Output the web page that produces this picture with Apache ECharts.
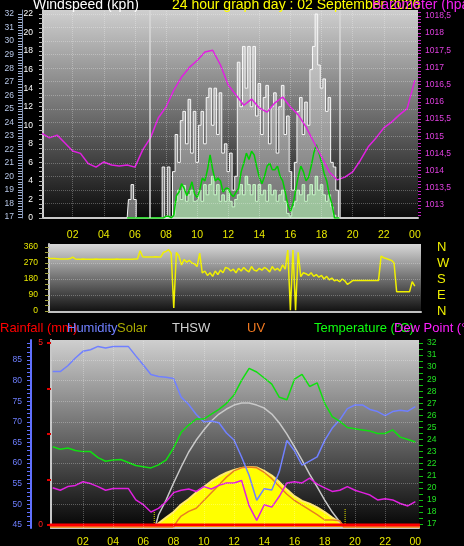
<!DOCTYPE html>
<html><head><meta charset="utf-8">
<script src="https://cdn.jsdelivr.net/npm/echarts@6/dist/echarts.min.js"></script>
<style>html,body{margin:0;padding:0;background:#000;}#c{width:464px;height:546px;}</style>
</head><body><div id="c"></div>
<script>
const FONT = '"Liberation Sans", Arial, sans-serif';

// ---------- tick labels ----------
const hourTicks = [2,4,6,8,10,12,14,16,18,20,22,24];
const windTickLabels = [0,2,4,6,8,10,12,14,16,18,20,22];
const outerTickLabels = [17,18,19,20,21,22,23,24,25,26,27,28,29,30,31,32];
const pressureTickLabels = [1013,1013.5,1014,1014.5,1015,1015.5,1016,1016.5,1017,1017.5,1018,1018.5];
const dirTickLabels = [0,90,180,270,360];
const dirCompass = {0:'N',90:'E',180:'S',270:'W',360:'N'};
const humTickLabels = [45,50,55,60,65,70,75,80,85];
const rainTickLabels = [0,5];
const rainTicks = [0,1.25,2.5,3.75,5];
const tempTickLabels = [17,18,19,20,21,22,23,24,25,26,27,28,29,30,31,32];

// ---------- panel 1 : wind (10-minute samples from 05:30) ----------
const windStart = 5.5;
const windGust = [
  0,2,3.6,
  2,0,0,0,0,0,
  0,0,0,0,0,5.5,
  0,5.5,0,5,9,6,
  10.5,11.5,8,12.8,7,11.5,
  6,10,11.5,8,13,14,
  10,14,9,13.5,7,8,
  5,7,3,4.5,16.8,12,
  18.5,14,18.5,12,18.5,11,
  14.5,9,13,14.3,8,12,
  13.5,7,12,14.3,9,11,
  5,3,6,11.5,13,9,
  12.5,10,16,18.5,22,16.5,
  14,15,11.5,13,6,5.5,
  3,0
];
const windAvg = [
  0,0,0,
  0,0,0,0,0,0,
  0,0,0,0,0,0,
  0.2,0.2,0,0.3,2.4,2.8,
  3.7,3.2,2.4,3.0,3.9,2.6,
  2.2,3.0,4.3,4.0,5.2,6.8,
  5.2,4.0,4.3,4.0,2.8,3.2,
  3.2,2.6,2.3,2.8,3.2,5.0,
  5.9,7.0,6.3,7.2,6.8,5.5,
  4.4,3.7,4.5,5.6,5.9,5.2,
  5.2,5.6,4.5,4.0,2.8,1.4,
  0.7,1.5,3.0,4.5,5.6,5.0,
  4.0,4.4,5.6,7.0,7.9,7.0,
  6.0,4.8,4.0,2.5,1.5,0,
  0,0
];
const windFill = [
  0,0,0,
  0,0,0,0,0,0,
  0,0,0,0,0,0,
  0,0,0,0.3,1.8,3.0,
  2.0,3.5,1.8,2.5,3.0,1.8,
  2.0,3.0,1.8,3.6,2.5,3.6,
  4.5,2.5,3.6,1.8,2.5,1.8,
  3.0,1.8,1.2,2.0,2.5,3.6,
  2.5,4.5,3.6,2.5,3.6,1.8,
  3.6,2.5,3.0,1.8,3.6,2.5,
  3.0,1.8,2.5,3.0,1.8,0.5,
  0.2,1.2,1.8,3.0,2.5,3.6,
  1.8,2.5,3.6,2.5,4.5,3.0,
  3.6,2.5,1.8,2.5,1.2,0.3,
  0,0
];
// pressure, every half hour 00:00..24:00
const pressure = [
  1015.09,1014.95,1015.03,1014.8,1014.57,1014.5,1014.2,1014.1,1014.25,1014.16,
  1014.13,1014.16,1014.1,1014.6,1014.95,1015.53,1015.85,1016.34,1016.72,1017.0,
  1017.2,1017.45,1017.5,1017.07,1016.49,1016.2,1015.9,1016.08,1015.82,1015.7,
  1015.97,1016.14,1015.85,1015.62,1015.27,1014.83,1014.4,1013.96,1013.73,1013.81,
  1013.96,1014.3,1014.69,1014.95,1015.24,1015.41,1015.62,1015.8,1016.63
];
const sunLines1 = [6.97, 19.19];

// ---------- panel 2 : wind direction, every 10 minutes 00:00..24:00 ----------
const windDir = [
  309,305,300,297,296,296,
  294,292,292,292,292,295,
  303,293,291,291,292,291,
  291,291,291,292,291,291,
  291,291,291,291,291,292,
  291,291,291,291,291,291,
  292,292,339,305,304,304,
  304,304,305,304,304,330,
  335,345,325,17,330,310,
  259,290,275,285,270,265,
  250,326,214,225,200,215,
  195,225,205,230,215,245,
  240,225,235,215,240,225,
  245,230,220,250,230,225,
  240,230,245,235,220,250,
  230,240,225,260,235,343,
  5,343,5,330,193,215,
  210,200,215,195,205,190,
  200,180,195,175,185,170,
  175,165,180,170,150,160,
  171,171,171,171,171,171,
  171,171,171,171,171,309,
  300,295,290,285,270,109,
  109,109,109,109,109,165,
  140
];

// ---------- panel 3 : every half hour 00:00..24:00 ----------
const temperature = [
  23.4,23.2,23.3,23.1,23.0,23.0,22.5,22.2,22.3,22.35,
  22.1,21.85,21.75,21.65,21.9,22.3,23.3,24.6,25.2,25.7,
  25.7,26.1,26.5,27.0,27.7,28.9,29.9,29.6,29.1,28.6,
  27.5,27.3,29.0,29.4,28.4,28.7,27.0,25.9,25.5,25.0,
  24.9,24.8,24.7,24.5,24.5,24.8,24.2,24.0,23.8
];
const humidity = [
  82.2,82.2,83.6,85.5,87.1,87.5,88.3,87.9,88.3,88.3,
  88.3,86.0,83.8,81.5,81.0,80.8,80.5,76.0,74.2,71.8,
  70.0,70.2,69.8,67.3,65.6,61.5,57.0,51.0,53.8,53.5,
  58.0,65.5,63.0,59.5,60.5,61.5,65.5,68.5,70.5,73.2,
  74.1,74.1,73.0,72.5,71.5,72.5,72.8,72.6,73.7
];
const dewPoint = [
  20.0,19.8,20.1,20.2,20.5,20.35,20.1,19.8,19.95,19.95,
  19.95,19.0,18.6,18.0,18.3,18.85,19.6,19.8,19.9,19.7,
  20.1,19.9,20.2,20.4,20.4,20.6,18.5,17.3,18.6,18.4,
  19.3,20.4,20.5,20.4,20.8,20.3,20.0,19.7,19.8,20.1,
  19.8,19.6,19.4,19.0,19.1,19.0,18.7,18.5,18.85
];
const solarTimes = [-0.2,6.75,7,7.5,8,8.5,9,9.5,10,10.5,11,11.5,12,12.5,13,13.5,14,14.5,15,15.5,16,16.5,17,17.5,18,18.5,19,19.3,24.3];
const solarValues = [0,0,20,50,80,120,150,185,214,245,270,290,305,315,321,318,300,275,240,200,165,140,125,105,80,50,25,0,0];
const thswTimes = [6.78,7,7.5,8,8.5,9,9.5,10,10.5,11,11.5,12,12.5,13,13.5,14,14.5,15,15.5,16,16.5,17,17.5,18,18.5,19,19.26];
const thswValues = [0,64,144,235,321,401,465,519,567,604,631,652,663,663,652,636,604,556,497,428,358,283,214,144,80,27,0];
const uvTimes = [-0.2,8,8.25,8.5,9,9.5,10,10.5,11,11.5,12,12.5,13,13.5,14,14.5,15,15.5,16,16.5,17,17.5,18,18.5,19,19.25,24.3];
const uvValues = [0,0,0.4,0.7,1.0,1.2,1.7,2.2,2.7,3.2,3.6,3.8,3.85,3.8,3.5,3.1,2.6,2.1,1.7,1.4,1.1,0.8,0.45,0.45,0.4,0,0];
const rainTimes = [-0.2,24.3];
const rainValues = [0,0];
const sunMarkTimes = [6.72,6.72,13,19.35,19.35];
const sunMarkValues = [0,96,'-',96,0];

// ---------- helpers ----------
function zip(t, v){ return t.map((x,i)=>[x, v[i]]); }
function gridTimes(start, step, n){ const a=[]; for(let i=0;i<n;i++) a.push(start+i*step); return a; }
function range(a,b,s){ const r=[]; for(let v=a; v<=b+1e-9; v+=s) r.push(Math.round(v*1000)/1000); return r; }
const halfHours = gridTimes(0, 0.5, 49);
const windTimes = gridTimes(windStart, 1/6, windGust.length);
const dirTimes = gridTimes(0, 1/6, windDir.length);
const hourFmt = v => { const h = Math.round(v)%24; return (h<10?'0':'')+h; };
function grad(stops){ return new echarts.graphic.LinearGradient(0,0,0,1, stops.map(s=>({offset:s[0],color:s[1]}))); }

const chart = echarts.init(document.getElementById('c'), null, {renderer:'canvas'});
const dotted = {color:'rgba(255,255,255,0.28)', type:'dotted', width:1};

function gridMarks(xVals, yVals, extra){
  const d = xVals.map(v=>({xAxis:v})).concat(yVals.map(v=>({yAxis:v})));
  return {silent:true, symbol:['none','none'], label:{show:false}, lineStyle:dotted, data: d.concat(extra||[])};
}

const option = {
  animation:false,
  backgroundColor:'#000',
  textStyle:{fontFamily:FONT},
  grid:[
    {left:43, top:10, width:375, height:208, show:true, borderWidth:0, outerBoundsMode:'none',
      backgroundColor:grad([[0,'#cfcfcf'],[0.5,'#6e6e6e'],[1,'#0a0a0a']])},
    {left:49, top:244, width:372, height:68, show:true, borderWidth:0, outerBoundsMode:'none',
      backgroundColor:grad([[0,'#d8d8d8'],[0.5,'#727272'],[1,'#101010']])},
    {left:51, top:340, width:368, height:188, show:true, borderWidth:0, outerBoundsMode:'none',
      backgroundColor:grad([[0,'#cfcfcf'],[0.5,'#6a6a6a'],[1,'#050505']])}
  ],
  xAxis:[
    {gridIndex:0, type:'value', min:0.09, max:24.2,
      axisLine:{show:true, onZero:false, lineStyle:{color:'#c8c8c8', width:2}}, axisTick:{show:false}, splitLine:{show:false},
      axisLabel:{customValues:hourTicks, formatter:hourFmt, color:'#e8e800', fontSize:10.5, margin:12}},
    {gridIndex:1, type:'value', min:0.476, max:24.4,
      axisLine:{show:true, onZero:false, lineStyle:{color:'#c0c0c0', width:2}}, axisTick:{show:false}, splitLine:{show:false},
      axisLabel:{show:false}},
    {gridIndex:2, type:'value', min:-0.1125, max:24.24,
      axisLine:{show:true, onZero:false, lineStyle:{color:'#c8c8c8', width:2}}, axisTick:{show:false}, splitLine:{show:false},
      axisLabel:{customValues:hourTicks, formatter:hourFmt, color:'#e8e800', fontSize:10.5, margin:9}}
  ],
  yAxis:[
    // 0 windspeed
    {gridIndex:0, type:'value', position:'left', min:0, max:22.43, splitLine:{show:false},
      axisLine:{show:true, onZero:false, lineStyle:{color:'#d0d0d0', width:2}},
      axisTick:{show:true, customValues:range(0,22,0.5), length:4, lineStyle:{color:'#b0b0b0'}},
      axisLabel:{customValues:windTickLabels, color:'#ffffff', fontSize:8.5, margin:10}},
    // 1 outer 17-32
    {gridIndex:0, type:'value', position:'left', offset:21, min:16.93, max:32.3, splitLine:{show:false},
      axisLine:{show:true, onZero:false, lineStyle:{color:'#8090b0', width:1}},
      axisTick:{show:true, customValues:range(17,32,0.2), length:4, lineStyle:{color:'#a0b0d0'}},
      axisLabel:{customValues:outerTickLabels, color:'#b8c8e8', fontSize:8.5, margin:8}},
    // 2 pressure
    {gridIndex:0, type:'value', position:'right', min:1012.62, max:1018.67, splitLine:{show:false},
      axisLine:{show:false, onZero:false},
      axisTick:{show:true, customValues:range(1012.7,1018.6,0.1), length:3, lineStyle:{color:'#c020c0'}},
      axisLabel:{customValues:pressureTickLabels, formatter:v=>String(v).replace('.',','), color:'#e040e0', fontSize:8.5, margin:7}},
    // 3 direction
    {gridIndex:1, type:'value', position:'left', min:-5.6, max:376.9, splitLine:{show:false},
      axisLine:{show:true, onZero:false, lineStyle:{color:'#c8c8c8', width:2}},
      axisTick:{show:true, customValues:range(0,360,30), length:4, lineStyle:{color:'#a0a040'}},
      axisLabel:{customValues:dirTickLabels, color:'#e8e800', fontSize:8.5, margin:11}},
    // 4 direction compass
    {gridIndex:1, type:'value', position:'right', min:-5.6, max:376.9, splitLine:{show:false},
      axisLine:{show:false, onZero:false}, axisTick:{show:false},
      axisLabel:{customValues:dirTickLabels, formatter:v=>dirCompass[v], color:'#f0f000', fontSize:13, margin:16}},
    // 5 humidity
    {gridIndex:2, type:'value', position:'left', offset:20, min:44.27, max:89.85, splitLine:{show:false},
      axisLine:{show:true, onZero:false, lineStyle:{color:'#6070ff', width:2}},
      axisTick:{show:true, customValues:range(45,89,1), length:4, lineStyle:{color:'#6070ff'}},
      axisLabel:{customValues:humTickLabels, color:'#6f7fff', fontSize:8.5, margin:9}},
    // 6 rainfall
    {gridIndex:2, type:'value', position:'left', min:-0.082, max:5.082, splitLine:{show:false},
      axisLine:{show:true, onZero:false, lineStyle:{color:'#c8c8c8', width:2}},
      axisTick:{show:true, customValues:rainTicks, length:4, lineStyle:{color:'#e00000', width:2}},
      axisLabel:{customValues:rainTickLabels, color:'#ff2020', fontSize:8.5, margin:8}},
    // 7 temperature
    {gridIndex:2, type:'value', position:'right', min:16.67, max:32.25, splitLine:{show:false},
      axisLine:{show:false, onZero:false},
      axisTick:{show:true, customValues:range(17,32,0.5), length:4, lineStyle:{color:'#10c010'}},
      axisLabel:{customValues:tempTickLabels, color:'#20e020', fontSize:8.5, margin:8}},
    // 8 solar (hidden)
    {gridIndex:2, type:'value', show:false, min:-5.35, max:1000},
    // 9 uv (hidden)
    {gridIndex:2, type:'value', show:false, min:-0.064, max:12}
  ],
  graphic:{elements:[
    {type:'text', z:100, x:33, y:5, style:{text:'Windspeed (kph)', fill:'#ffffff', font:'14px '+FONT, verticalAlign:'middle'}},
    {type:'text', z:100, x:172, y:5, style:{text:'24 hour graph day : 02 September 2026', fill:'#ffff00', font:'14px '+FONT, verticalAlign:'middle'}},
    {type:'text', z:101, x:372, y:5, style:{text:'Barometer (hpa)', fill:'#f020f0', font:'14px '+FONT, verticalAlign:'middle'}},
    {type:'text', z:100, x:0, y:328, style:{text:'Rainfall (mm)', fill:'#ff0000', font:'13px '+FONT, verticalAlign:'middle'}},
    {type:'text', z:101, x:67, y:328, style:{text:'Humidity', fill:'#7080ff', font:'13px '+FONT, verticalAlign:'middle'}},
    {type:'text', z:100, x:117, y:328, style:{text:'Solar', fill:'#a8a800', font:'13px '+FONT, verticalAlign:'middle'}},
    {type:'text', z:100, x:172, y:328, style:{text:'THSW', fill:'#d0d0d0', font:'13px '+FONT, verticalAlign:'middle'}},
    {type:'text', z:100, x:247, y:328, style:{text:'UV', fill:'#f07820', font:'13px '+FONT, verticalAlign:'middle'}},
    {type:'text', z:100, x:314, y:328, style:{text:'Temperature (°C)', fill:'#10ff10', font:'13px '+FONT, verticalAlign:'middle'}},
    {type:'text', z:101, x:394, y:328, style:{text:'Dew Point (°C)', fill:'#ff20ff', font:'13px '+FONT, verticalAlign:'middle'}}
  ]},
  series:[
    // ---- panel 1
    {type:'line', xAxisIndex:0, yAxisIndex:1, data:[[1,null]], silent:true,
      markLine: gridMarks(hourTicks.filter(h=>h<24), range(18,32,1),
        sunLines1.map(v=>({xAxis:v, lineStyle:{color:'#d8d8d8', type:'solid', width:1.5}})))},
    {type:'line', name:'gust', xAxisIndex:0, yAxisIndex:0, data:zip(windTimes, windGust), step:'middle',
      symbol:'none', lineStyle:{color:'#f8f8f8', width:1}, areaStyle:{color:'rgba(238,238,238,0.62)'}},
    {type:'line', name:'fill', xAxisIndex:0, yAxisIndex:0, data:zip(windTimes, windFill), step:'middle',
      symbol:'none', lineStyle:{color:'#c8f8c8', width:1}, areaStyle:{color:'rgba(180,240,180,0.9)'}},
    {type:'line', name:'avg', xAxisIndex:0, yAxisIndex:0, data:zip(windTimes, windAvg),
      symbol:'none', lineStyle:{color:'#00d000', width:1.5}},
    {type:'line', name:'pressure', xAxisIndex:0, yAxisIndex:2, data:zip(halfHours, pressure),
      symbol:'none', lineStyle:{color:'#e020e0', width:1.5}},
    // ---- panel 2
    {type:'line', xAxisIndex:1, yAxisIndex:3, data:[[1,null]], silent:true,
      markLine: gridMarks([], [90,180,270])},
    {type:'line', name:'dir', xAxisIndex:1, yAxisIndex:3, data:zip(dirTimes, windDir),
      symbol:'none', lineStyle:{color:'#f0f000', width:1.5}},
    // ---- panel 3
    {type:'line', xAxisIndex:2, yAxisIndex:5, data:[[1,null]], silent:true,
      markLine: gridMarks(hourTicks.filter(h=>h<24), [50,55,60,65,70,75,80,85])},
    {type:'line', name:'solar', xAxisIndex:2, yAxisIndex:8, data:zip(solarTimes, solarValues),
      symbol:'none', lineStyle:{color:'#ffe870', width:2}, areaStyle:{color:'#ffff00', opacity:1}},
    {type:'line', name:'thsw', xAxisIndex:2, yAxisIndex:8, data:zip(thswTimes, thswValues),
      symbol:'none', lineStyle:{color:'#c8c8c8', width:1.5}},
    {type:'line', name:'sun', xAxisIndex:2, yAxisIndex:8, data:zip(sunMarkTimes, sunMarkValues),
      symbol:'none', lineStyle:{color:'#e8e800', width:1, type:'dotted'}},
    {type:'line', name:'uv', xAxisIndex:2, yAxisIndex:9, data:zip(uvTimes, uvValues),
      symbol:'none', lineStyle:{color:'#e88020', width:1.5}},
    {type:'line', name:'rain', xAxisIndex:2, yAxisIndex:6, data:zip(rainTimes, rainValues),
      symbol:'none', lineStyle:{color:'#ff0000', width:3}},
    {type:'line', name:'humidity', xAxisIndex:2, yAxisIndex:5, data:zip(halfHours, humidity),
      symbol:'none', lineStyle:{color:'#7080ff', width:1.5}},
    {type:'line', name:'temperature', xAxisIndex:2, yAxisIndex:7, data:zip(halfHours, temperature),
      symbol:'none', lineStyle:{color:'#10e010', width:1.5}},
    {type:'line', name:'dew', xAxisIndex:2, yAxisIndex:7, data:zip(halfHours, dewPoint),
      symbol:'none', lineStyle:{color:'#e020e0', width:1.5}}
  ]
};
chart.setOption(option);
</script></body></html>
